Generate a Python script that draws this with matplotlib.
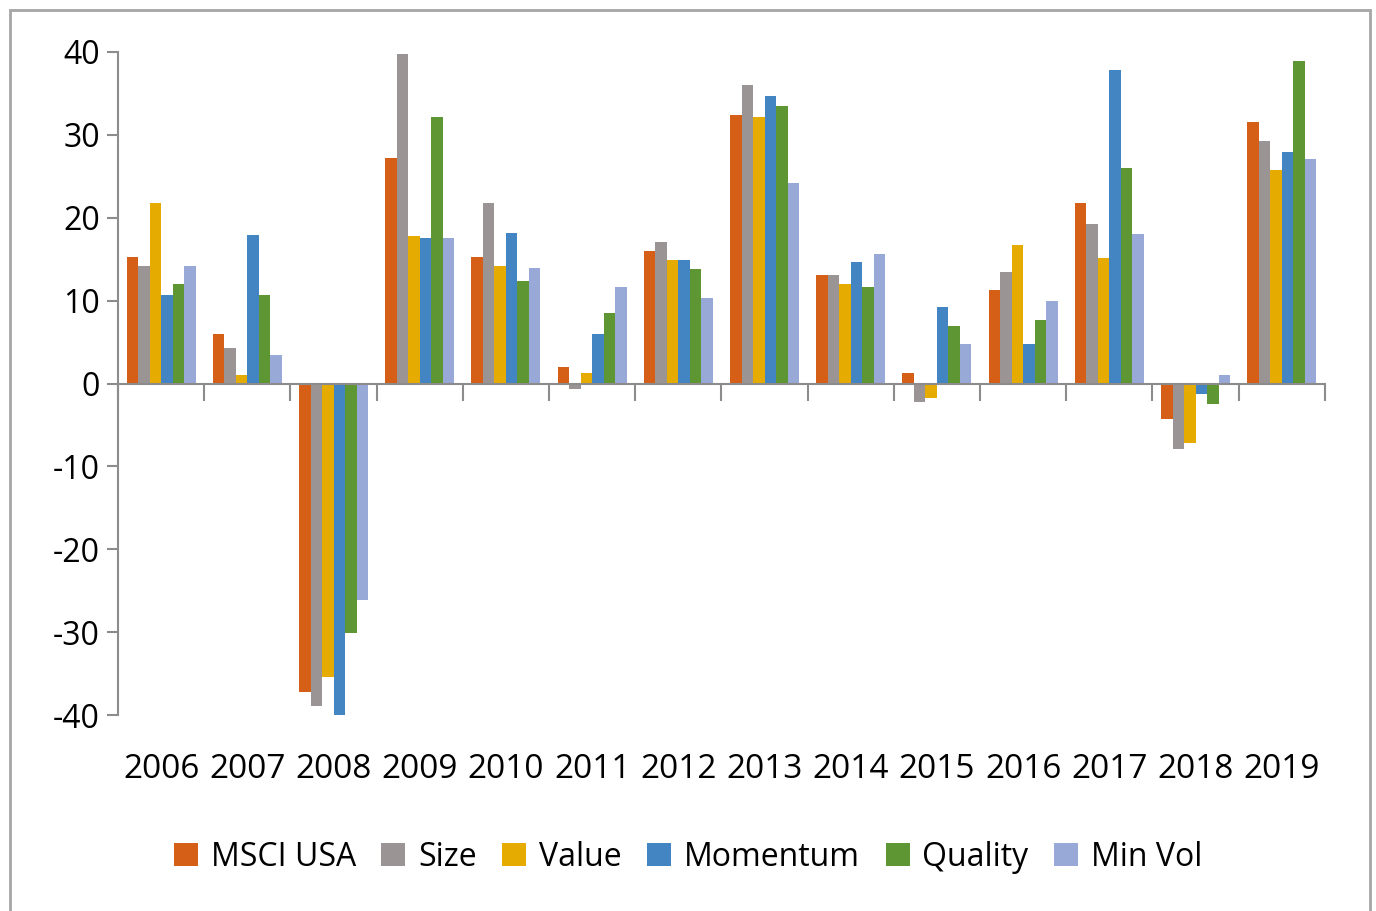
import matplotlib

matplotlib.use("Agg")
import matplotlib.pyplot as plt
import numpy as np
from matplotlib.patches import Rectangle
from matplotlib.transforms import blended_transform_factory

years = ["2006", "2007", "2008", "2009", "2010", "2011", "2012",
         "2013", "2014", "2015", "2016", "2017", "2018", "2019"]

msci_usa = [15.3, 6.0, -37.2, 27.2, 15.3, 2.0, 16.0, 32.4, 13.1, 1.3, 11.3, 21.8, -4.3, 31.5]
size = [14.2, 4.3, -38.9, 39.7, 21.8, -0.6, 17.1, 36.0, 13.1, -2.2, 13.5, 19.2, -7.9, 29.2]
value = [21.8, 1.0, -35.4, 17.8, 14.2, 1.3, 14.9, 32.1, 12.0, -1.8, 16.7, 15.2, -7.2, 25.8]
momentum = [10.7, 17.9, -40.6, 17.5, 18.2, 6.0, 14.9, 34.7, 14.6, 9.2, 4.8, 37.8, -1.3, 27.9]
quality = [12.0, 10.7, -30.1, 32.2, 12.4, 8.5, 13.8, 33.5, 11.6, 7.0, 7.7, 26.0, -2.5, 38.9]
min_vol = [14.2, 3.5, -26.1, 17.5, 13.9, 11.7, 10.3, 24.2, 15.6, 4.8, 9.9, 18.0, 1.0, 27.1]

series = [
    ("MSCI USA", msci_usa, "#D65F17"),
    ("Size", size, "#9A9594"),
    ("Value", value, "#E5AB00"),
    ("Momentum", momentum, "#4384C2"),
    ("Quality", quality, "#5D9632"),
    ("Min Vol", min_vol, "#98A8D7"),
]

plt.rcParams["font.family"] = ["Open Sans", "DejaVu Sans"]
plt.rcParams["axes.unicode_minus"] = False
AXIS_GRAY = "#8C8C8C"

fig = plt.figure(figsize=(13.76, 9.11), dpi=100)
ax = fig.add_axes([0.0858, 0.215, 0.877, 0.728])

x = np.arange(len(years))
n = len(series)
group_w = 0.8
bw = group_w / n
for i, (label, vals, color) in enumerate(series):
    ax.bar(x - group_w / 2 + bw * (i + 0.5), vals, width=bw, color=color, label=label, zorder=2)

ax.set_xlim(-0.5, len(years) - 0.5)
ax.set_ylim(-40, 40)
ax.set_yticks(np.arange(-40, 41, 10))
ax.tick_params(axis="y", labelsize=23, length=8, width=1.5, color=AXIS_GRAY, pad=5)

ax.spines["top"].set_visible(False)
ax.spines["right"].set_visible(False)
ax.spines["left"].set_color(AXIS_GRAY)
ax.spines["left"].set_linewidth(1.5)
ax.spines["bottom"].set_position(("data", 0))
ax.spines["bottom"].set_color(AXIS_GRAY)
ax.spines["bottom"].set_linewidth(1.5)
ax.spines["bottom"].set_zorder(3)

# category separators hang below the zero line
ax.set_xticks(np.arange(-0.5, len(years), 1.0))
ax.set_xticklabels([])
ax.tick_params(axis="x", length=12, width=1.5, color=AXIS_GRAY, direction="out")

# year labels sit under the plot area, not at the zero line
trans = blended_transform_factory(ax.transData, ax.transAxes)
for xi, yr in zip(x, years):
    ax.text(xi, -0.057, yr, transform=trans, ha="center", va="top", fontsize=24)

fig.legend(loc="center", bbox_to_anchor=(0.5, 0.059), ncol=n, frameon=False,
           fontsize=23, handlelength=0.75, handleheight=0.75, handletextpad=0.4,
           columnspacing=0.8)

fig.patches.append(Rectangle((0.0073, -0.1), 0.9884, 1.089, transform=fig.transFigure,
                             fill=False, edgecolor="#A6A6A6", linewidth=2))

fig.savefig("out.png", dpi=100)
plt.close(fig)
